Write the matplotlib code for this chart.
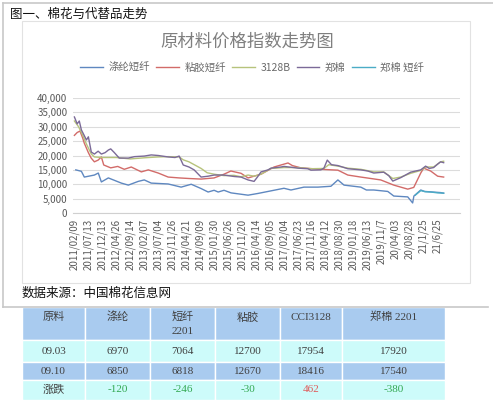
import matplotlib
matplotlib.use('Agg')
import matplotlib.pyplot as plt
from matplotlib.patches import Rectangle
from matplotlib.lines import Line2D

plt.rcParams['font.family'] = ['Noto Sans CJK SC', 'DejaVu Sans']

# category axis labels (Excel style date categories)
date_labels = ['2011/02/09', '2011/07/13', '2011/12/13', '2012/04/26', '2012/09/14',
               '2013/02/07', '2013/07/04', '2013/11/26', '2014/04/21', '2014/09/09',
               '2015/01/30', '2015/06/26', '2015/11/20', '2016/04/14', '2016/09/05',
               '2017/02/04', '2017/06/23', '2017/11/16', '2018/04/12', '2018/08/30',
               '2019/01/18', '2019/06/13', '2019/11/7', '20/04/03', '20/08/28',
               '21/1/25', '21/6/25']

# series, position in category units
zm_pos = [0, 0.2, 0.35, 0.5, 0.7, 0.86, 1.0, 1.21, 1.43, 1.7, 1.93, 2.2, 2.43, 2.6, 2.86,
          3.21, 3.86, 4.3, 5.0, 5.5, 6.0, 6.71, 7.2, 7.5, 7.79, 8.2, 8.57, 9.07, 9.57, 10.0,
          10.71, 11.43, 11.93, 12.43, 12.86, 13.1, 13.36, 13.86, 14.07, 14.79, 15.0, 15.71,
          16.0, 16.71, 16.93, 17.64, 17.86, 18.1, 18.4, 18.86, 19.57, 20.5, 21.0, 21.43,
          22.14, 22.5, 22.79, 23.36, 24.07, 24.79, 25.14, 25.4, 25.71, 26.0, 26.21, 26.43]
zm_val = [33400, 31000, 32000, 28900, 27000, 25400, 26500, 21200, 20500, 21500, 20500, 21000,
          21900, 22300, 21000, 19100, 19100, 19600, 19800, 20200, 20000, 19500, 19300, 19800,
          16700, 16000, 15000, 12500, 12800, 13200, 13200, 12700, 12500, 11500, 11000, 12500,
          14300, 15000, 15600, 16000, 16200, 15800, 15600, 15400, 14900, 15000, 15600, 18400,
          16800, 16500, 15400, 15000, 14600, 13900, 14200, 13000, 11100, 12300, 14200, 15000,
          16300, 15500, 15800, 17000, 17800, 17500]

b3128_pos = [0, 0.3, 0.6, 0.86, 1.21, 1.43, 2.0, 3.0, 4.0, 5.0, 6.0, 6.71, 7.5, 7.79, 8.2,
             9.07, 9.5, 10.0, 10.71, 11.43, 11.93, 12.43, 12.86, 13.36, 14.07, 15.0, 16.0,
             16.93, 17.86, 18.21, 18.86, 19.57, 20.5, 21.43, 22.14, 22.79, 23.36, 24.07,
             24.79, 25.14, 25.71, 26.21, 26.43]
b3128_val = [32000, 30000, 27000, 24000, 20500, 19500, 19300, 19300, 18800, 19200, 19500,
             19600, 19500, 18500, 17800, 15500, 14000, 13500, 13000, 13100, 12600, 13200,
             12800, 13500, 15500, 15800, 15800, 15400, 15500, 16800, 16300, 15600, 15200,
             14300, 14300, 12000, 12500, 13800, 14800, 16000, 16000, 17800, 18000]

nj_pos = [0, 0.2, 0.4, 0.6, 0.7, 1.0, 1.2, 1.43, 1.7, 1.93, 2.1, 2.6, 3.1, 3.57, 4.07, 4.79,
          5.29, 6.0, 6.71, 7.5, 8.2, 9.07, 10.0, 10.71, 11.2, 11.93, 12.43, 13.36, 14.29,
          15.29, 15.6, 16.21, 17.64, 18.86, 19.57, 20.5, 21.93, 22.86, 23.86, 24.29, 24.79,
          25.0, 25.5, 26.0, 26.43]
nj_val = [27000, 28000, 28500, 26000, 24400, 21000, 19100, 17800, 18400, 19500, 16700, 15700,
          16200, 15200, 16000, 14300, 15000, 13900, 12500, 12200, 12000, 11800, 12200, 13500,
          14600, 13800, 12200, 13500, 16000, 17400, 16500, 15700, 15200, 14900, 13200, 12500,
          11500, 9700, 8300, 8900, 13900, 15600, 14600, 12800, 12500]

dl_pos = [0.1, 0.5, 0.71, 1.43, 1.71, 1.93, 2.43, 3.36, 3.86, 4.57, 5.0, 5.5, 6.71, 7.64,
          8.36, 9.07, 9.57, 10.0, 10.29, 10.71, 11.21, 12.43, 13.14, 14.07, 15.0, 15.5,
          16.43, 17.43, 18.36, 18.86, 19.3, 20.5, 20.9, 21.43, 22.43, 22.86, 23.86, 24.21,
          24.3, 24.79, 25.07, 26.21, 26.43]
dl_val = [15000, 14500, 12500, 13200, 13900, 10800, 12200, 10400, 9700, 11000, 11500, 10400,
          10100, 9000, 10000, 8500, 7300, 7900, 7300, 7900, 7000, 6200, 6800, 7700, 8600, 8000,
          9000, 9000, 9300, 11500, 9700, 9000, 8000, 8000, 7500, 5900, 5600, 3500, 5900, 8000,
          7500, 7100, 6900]

dx_pos = [24.4, 24.79, 25.1, 25.5, 26.0, 26.43]
dx_val = [6200, 7800, 7400, 7300, 7000, 6900]

series_names = ['涤纶短纤', '粘胶短纤', '3128B', '郑棉', '郑棉 短纤']
colors = ['#5f88c0', '#d26b69', '#b7c37c', '#7b6a98', '#4bacc6']

# table
tbl_header = [['原料'], ['涤纶'], ['短纤', '2201'], ['粘胶'], ['CCI3128'], ['郑棉 2201']]
tbl_rows = [['09.03', '6970', '7064', '12700', '17954', '17920'],
            ['09.10', '6850', '6818', '12670', '18416', '17540'],
            ['涨跌', '-120', '-246', '-30', '462', '-380']]

W, H = 493, 400
fig = plt.figure(figsize=(W / 100, H / 100), dpi=100)

# page layer in pixel coords
bg = fig.add_axes([0, 0, 1, 1])
bg.set_xlim(0, W)
bg.set_ylim(H, 0)
bg.axis('off')
frame = '#c8c8c8'
bg.plot([3, W], [3, 3], color=frame, lw=1.2)
bg.plot([3, 3], [3, 307], color=frame, lw=1.2)
bg.plot([3, 488], [307, 307], color=frame, lw=1.2)
bg.add_patch(Rectangle((22, 21), 448, 262, facecolor='white', edgecolor='#e2e2e2', lw=0.8))
bg.text(10, 14, '图一、棉花与代替品走势', fontsize=9, color='#111111', va='center')
bg.text(22, 293, '数据来源：中国棉花信息网', fontsize=9, color='#111111', va='center')
bg.text(247, 42, '原材料价格指数走势图', fontsize=12.5, color='#7f7f7f',
        ha='center', va='center')

# table
col_x = [22, 85, 150, 215, 280, 342, 445]
row_y = [307, 340, 362, 380, 400]
row_fill = ['#a9cbef', '#cdfbfa', '#a9cbef', '#cdfbfa']
tfont = ['Liberation Serif', 'Noto Sans CJK SC']
for r in range(4):
    for c in range(6):
        bg.add_patch(Rectangle((col_x[c], row_y[r]), col_x[c + 1] - col_x[c],
                               row_y[r + 1] - row_y[r], facecolor=row_fill[r],
                               edgecolor='white', lw=1.0))
for c, lines in enumerate(tbl_header):
    cx = (col_x[c] + col_x[c + 1]) / 2
    for k, lab in enumerate(lines):
        bg.text(cx, 317 + k * 15, lab, fontsize=8, color='#404040', ha='center',
                va='center', family=tfont)
for r, row in enumerate(tbl_rows):
    cy = (row_y[r + 1] + row_y[r + 2]) / 2
    for c, v in enumerate(row):
        cx = (col_x[c] + col_x[c + 1]) / 2
        col = '#404040'
        if r == 2 and c > 0:
            col = '#e05a5a' if not v.startswith('-') else '#33a852'
        bg.text(cx, cy, v, fontsize=8, color=col, ha='center', va='center', family=tfont)

# chart
ax = fig.add_axes([73 / W, 1 - 213 / H, (460 - 73) / W, (213 - 98) / H])
ax.patch.set_alpha(0)
lw = 1.0
ax.plot(dl_pos, dl_val, color=colors[0], lw=lw)
ax.plot(nj_pos, nj_val, color=colors[1], lw=lw)
ax.plot(b3128_pos, b3128_val, color=colors[2], lw=lw)
ax.plot(zm_pos, zm_val, color=colors[3], lw=lw)
ax.plot(dx_pos, dx_val, color=colors[4], lw=lw)

ax.set_ylim(0, 40000)
ax.set_xlim(-0.1, 27.6)
ax.set_yticks(range(0, 40001, 5000))
ax.set_yticklabels(['{:,}'.format(v) for v in range(0, 40001, 5000)])
ax.set_xticks(range(len(date_labels)))
ax.set_xticklabels(date_labels, rotation=90)
ax.tick_params(length=0, labelsize=7, colors='#595959', pad=4)
ax.grid(axis='y', color='#dcdcdc', lw=0.8)
ax.set_axisbelow(True)
for s in ['top', 'right', 'left']:
    ax.spines[s].set_visible(False)
ax.spines['bottom'].set_color('#d0d0d0')

handles = [Line2D([], [], color=c, lw=1.0) for c in colors]
fig.legend(handles, series_names, loc='center', bbox_to_anchor=(252 / W, 1 - 68 / H),
           ncol=5, frameon=False, fontsize=7.5, handlelength=2.2, columnspacing=0.6,
           handletextpad=0.5, labelcolor='#6a6a6a')

fig.savefig('out.png', dpi=100)
